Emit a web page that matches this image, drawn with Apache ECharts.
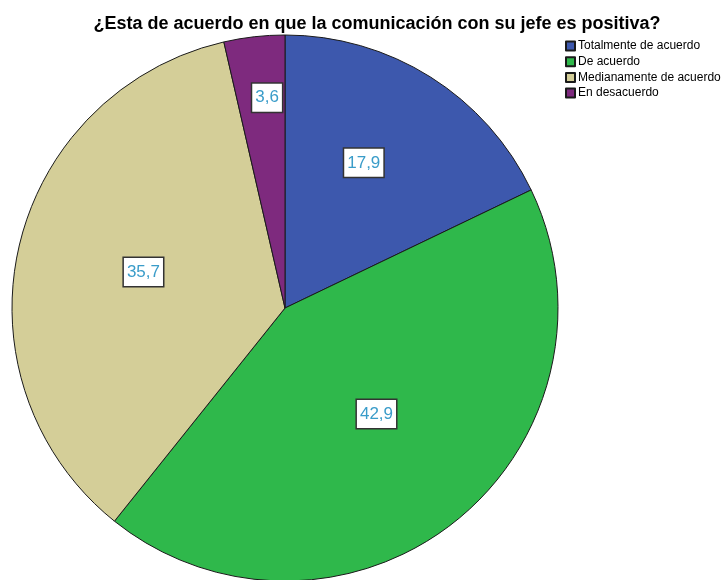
<!DOCTYPE html>
<html>
<head>
<meta charset="utf-8">
<script src="https://cdn.jsdelivr.net/npm/echarts@6/dist/echarts.min.js"></script>
<style>html,body{margin:0;padding:0;background:#fff;}#c{width:728px;height:580px;}</style>
</head>
<body>
<div id="c"></div>
<script>
const titleText = '¿Esta de acuerdo en que la comunicación con su jefe es positiva?';
const categories = ['Totalmente de acuerdo', 'De acuerdo', 'Medianamente de acuerdo', 'En desacuerdo'];
const values = [17.9, 42.9, 35.7, 3.6];
const colors = ['#3d58ad', '#2fb84b', '#d4ce98', '#7e2a7e'];
// label placement (layout only): fraction of radius, angle shift in degrees
const labelRadial = [0.605, 0.513, 0.535, 0.773];
const labelShift = [-3.7, -2.3, 1.4, 1.6];

const CX = 285, CY = 308, R = 273;
const total = values.reduce((a, b) => a + b, 0);
const mids = [];
let acc = 0;
values.forEach(v => { mids.push((acc + v / 2) / total * 2 * Math.PI); acc += v; });

const chart = echarts.init(document.getElementById('c'), null, {renderer: 'canvas'});
chart.setOption({
  animation: false,
  title: {
    text: titleText, left: 372, textAlign: 'center', top: 10,
    textStyle: {fontFamily: 'Liberation Sans, Arial, sans-serif', fontSize: 18, fontWeight: 'bold', color: '#000'}
  },
  legend: {
    orient: 'vertical', left: 560, top: 35,
    itemWidth: 9, itemHeight: 9, itemGap: 3.7, icon: 'rect',
    data: categories,
    textStyle: {fontFamily: 'Liberation Sans, Arial, sans-serif', fontSize: 12, lineHeight: 12, color: '#000', padding: [0, 0, 0, -2]}
  },
  series: [{
    type: 'pie',
    center: [CX, CY], radius: R,
    startAngle: 90, clockwise: true,
    avoidLabelOverlap: false,
    itemStyle: {borderColor: '#1a1a1a', borderWidth: 1},
    label: {
      show: true, position: 'inside',
      formatter: p => p.value.toFixed(1).replace('.', ','),
      fontFamily: 'Liberation Sans, Arial, sans-serif', fontSize: 17, color: '#3a9cc9',
      backgroundColor: '#fff', borderColor: '#333', borderWidth: 1.5,
      padding: [6, 3, 5, 3]
    },
    labelLine: {show: false},
    labelLayout: function (params) {
      const i = params.dataIndex;
      const a = mids[i] + labelShift[i] * Math.PI / 180, d = labelRadial[i] * R;
      return {x: CX + Math.sin(a) * d, y: CY - Math.cos(a) * d};
    },
    data: categories.map((n, i) => ({name: n, value: values[i], itemStyle: {color: colors[i]}}))
  }]
});
</script>
</body>
</html>
